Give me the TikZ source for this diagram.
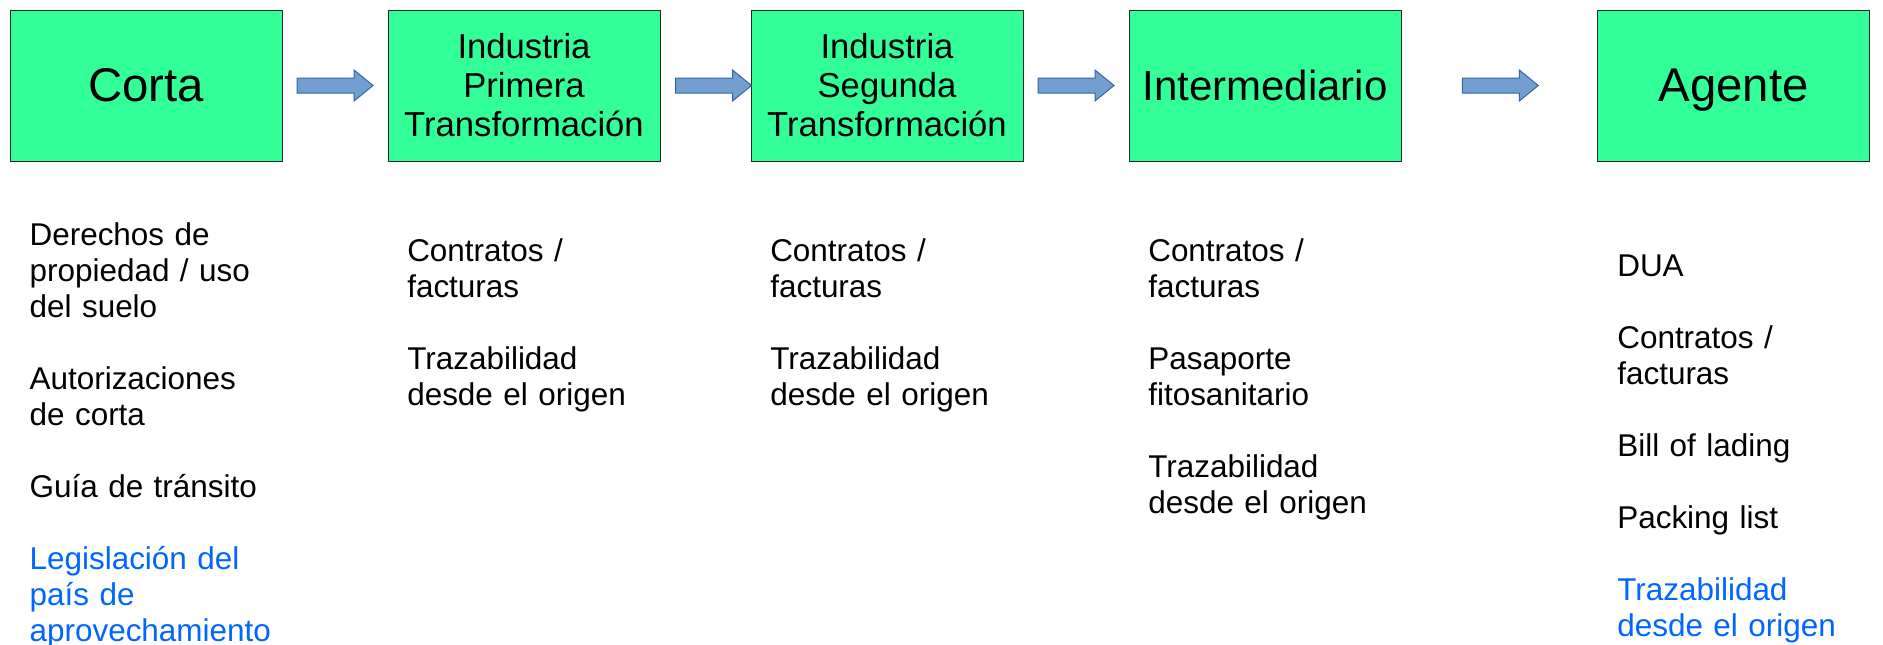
\documentclass[tikz,border=0pt]{standalone}
\usepackage{fontspec}
\setmainfont{Liberation Sans}
\usetikzlibrary{calc}
\definecolor{stagegreen}{HTML}{33FF99}
\definecolor{arrowfill}{HTML}{729FCF}
\definecolor{arrowline}{HTML}{3465A4}
\definecolor{linkblue}{HTML}{0066FF}

\begin{document}
\begin{tikzpicture}[x=0.75pt,y=-0.75pt,
    stage/.style={draw=black!85,fill=stagegreen,line width=0.75pt,
      minimum width=204pt,minimum height=113.25pt,inner sep=0pt,align=center},
    doclist/.style={anchor=base west,inner sep=0pt,text width=225pt,align=left,
      font=\fontsize{23.6}{27}\selectfont},
    blockarrow/.style={draw=arrowline,fill=arrowfill,line width=0.75pt}]
    \useasboundingbox (0,0) rectangle (1883,644);
    % stages of the chain
    \node[stage,font=\fontsize{35.5}{40}\selectfont] (corta) at (146,85.5) {Corta};
    \node[stage,font=\fontsize{26}{29.25}\selectfont] (primera) at (524,85.5) {Industria\\Primera\\Transformación};
    \node[stage,font=\fontsize{26}{29.25}\selectfont] (segunda) at (887,85.5) {Industria\\Segunda\\Transformación};
    \node[stage,font=\fontsize{31.5}{36}\selectfont] (inter) at (1265,85.5) {Intermediario};
    \node[stage,font=\fontsize{35.5}{40}\selectfont,text depth=0pt] (agente) at (1733.5,85.5) {Agente};
    % block arrows
    \foreach \a/\b/\off in {corta/primera/0,primera/segunda/8,segunda/inter/0,inter/agente/1} {
      \begin{scope}[shift={($(\a.east)!0.5!(\b.west)+(\off,0)$)}]
        \draw[blockarrow] (-38,-7.5) -- (19,-7.5) -- (19,-15.5) -- (38,0)
          -- (19,15.5) -- (19,7.5) -- (-38,7.5) -- cycle;
      \end{scope}
    }
    % documents for each stage
    \node[doclist] (docscorta) at (29.3,245.7) {Derechos de\\propiedad / uso\\del suelo\\[27pt]
      Autorizaciones\\de corta\\[27pt]Guía de tránsito\\[27pt]
      \textcolor{linkblue}{Legislación del\\país de\\aprovechamiento}};
    \node[doclist] (docsprimera) at (407,261.3) {Contratos /\\facturas\\[27pt]
      Trazabilidad\\desde el origen};
    \node[doclist] (docssegunda) at (770,261.3) {Contratos /\\facturas\\[27pt]
      Trazabilidad\\desde el origen};
    \node[doclist] (docsinter) at (1148,261.3) {Contratos /\\facturas\\[27pt]
      Pasaporte\\fitosanitario\\[27pt]Trazabilidad\\desde el origen};
    \node[doclist] (docsagente) at (1617,276.7) {DUA\\[27pt]Contratos /\\facturas\\[27pt]
      Bill of lading\\[27pt]Packing list\\[27pt]
      \textcolor{linkblue}{Trazabilidad\\desde el origen}};
  \end{tikzpicture}
\end{document}
